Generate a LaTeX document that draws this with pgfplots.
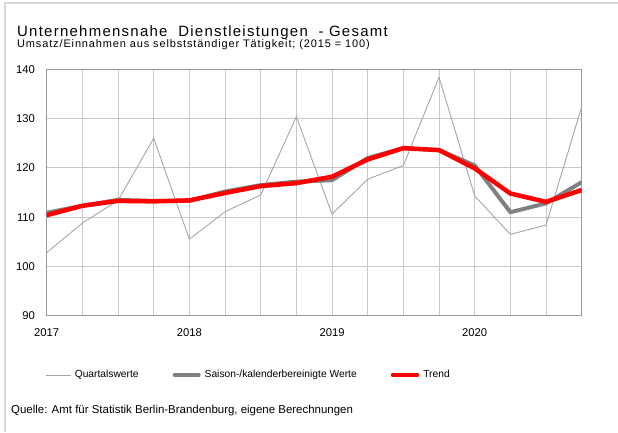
\documentclass[border=0pt]{standalone}
\usepackage{pgfplots}
\pgfplotsset{compat=1.18}
\usepackage{fontspec}
\setmainfont{Liberation Sans}
\definecolor{qgrey}{HTML}{A6A6A6}
\definecolor{sgrey}{HTML}{808080}
\definecolor{gridc}{HTML}{C8C8C8}
\begin{document}
\begin{tikzpicture}[x=1bp,y=1bp]
\path[use as bounding box] (0,0) rectangle (618,432);
\draw[color=black!15, line width=2.5bp] (5,0) -- (5,429) -- (618,429);
\node[anchor=base west, inner sep=0pt, font=\fontsize{15}{18}\selectfont\addfontfeatures{LetterSpace=8.5}] at (17,395.3) {Unternehmensnahe\ \ Dienstleistungen\ \ - Gesamt};
\node[anchor=base west, inner sep=0pt, font=\fontsize{11}{12}\selectfont\addfontfeatures{LetterSpace=8}] at (17,385) {Umsatz/Einnahmen aus selbstständiger Tätigkeit; (2015 = 100)};
\node[anchor=west, inner sep=0pt, font=\fontsize{11.5}{13}\selectfont] at (11,21) {Quelle: Amt für Statistik Berlin-Brandenburg, eigene Berechnungen};
\begin{axis}[
  at={(46.7bp,116.3bp)}, anchor=south west,
  width=535bp, height=246.4bp, scale only axis,
  xmin=0, xmax=15, ymin=90, ymax=140,
  ytick={90,100,...,140},
  xtick={0,4,8,12}, xticklabels={2017,2018,2019,2020},
  minor xtick={1,2,3,5,6,7,9,10,11,13,14,15},
  grid=both,
  major grid style={draw=gridc, line width=0.8bp},
  minor grid style={draw=gridc, line width=0.8bp},
  axis line style={draw=black!40, line width=0.8bp},
  major tick length=0pt, minor tick length=0pt,
  /pgf/number format/assume math mode=true,
  ticklabel style={font=\fontsize{11.3}{13}\selectfont, inner sep=0pt},
  yticklabel style={anchor=east, xshift=-11.5bp},
  xticklabel style={anchor=north, yshift=-12.5bp},
  legend style={at={(0,0)}, anchor=west, xshift=-1bp, yshift=-59.3bp,
    draw=none, fill=none, inner sep=0pt,
    nodes={inner sep=0pt, font=\fontsize{10.3}{12}\selectfont},
    /tikz/every odd column/.append style={column sep=4bp},
    /tikz/every even column/.append style={column sep=34bp}},
  legend columns=3,
  legend image code/.code={\draw[#1, line cap=round] (0bp,0bp) -- (24bp,0bp);},
]
\addplot[qgrey, line width=0.9bp, line join=round] coordinates {
(0,102.8) (1,108.8) (2,113.4) (3,126.0) (4,105.5) (5,111.1) (6,114.5) (7,130.4)
(8,110.6) (9,117.7) (10,120.5) (11,138.4) (12,114.3) (13,106.5) (14,108.4) (15,132.4)};
\addlegendentry{Quartalswerte}
\addplot[sgrey, line width=4bp, line join=round] coordinates {
(0,110.9) (1,112.3) (2,113.5) (3,113.3) (4,113.3) (5,115.2) (6,116.5) (7,117.2)
(8,117.5) (9,122.0) (10,124.0) (11,123.6) (12,120.5) (13,111.0) (14,112.8) (15,117.1)};
\addlegendentry{Saison-/kalenderbereinigte Werte}
\addplot[red, line width=4.5bp, line join=round] coordinates {
(0,110.4) (1,112.3) (2,113.3) (3,113.2) (4,113.4) (5,114.9) (6,116.3) (7,116.9)
(8,118.2) (9,121.7) (10,124.0) (11,123.6) (12,119.9) (13,114.8) (14,113.1) (15,115.5)};
\addlegendentry{Trend}
\end{axis}
\end{tikzpicture}
\end{document}
